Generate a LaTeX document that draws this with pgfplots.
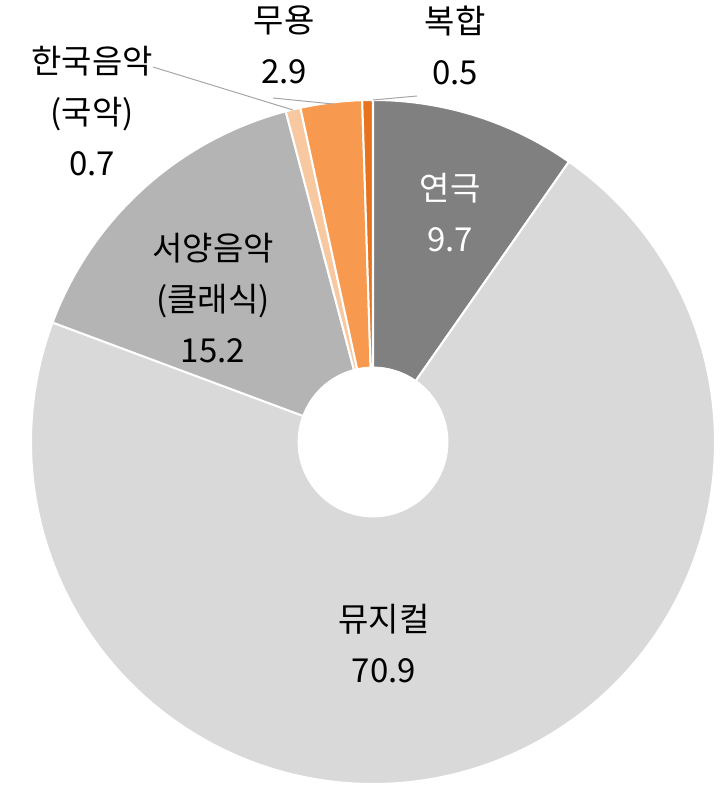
\documentclass[border=0pt]{standalone}
\usepackage{pgfplots}
\pgfplotsset{compat=1.18}
\usepackage{fontspec}
\setmainfont{Noto Sans CJK KR}
\definecolor{cA}{HTML}{808080}
\definecolor{cB}{HTML}{D9D9D9}
\definecolor{cC}{HTML}{B4B4B4}
\definecolor{cD}{HTML}{F8C8A0}
\definecolor{cE}{HTML}{F79A50}
\definecolor{cF}{HTML}{E8731E}
\definecolor{lead}{HTML}{A6A6A6}
% data (shares, %)
\def\vA{9.7}  % 연극
\def\vB{70.9} % 뮤지컬
\def\vC{15.2} % 서양음악
\def\vD{0.7}  % 한국음악
\def\vE{2.9}  % 무용
\def\vF{0.5}  % 복합
\pgfmathsetmacro\T{\vA+\vB+\vC+\vD+\vE+\vF}
\pgfmathsetmacro\bA{90-\vA/\T*360}
\pgfmathsetmacro\bB{\bA-\vB/\T*360}
\pgfmathsetmacro\bC{\bB-\vC/\T*360}
\pgfmathsetmacro\bD{\bC-\vD/\T*360}
\pgfmathsetmacro\bE{\bD-\vE/\T*360}
\pgfmathsetmacro\bF{\bE-\vF/\T*360}
\def\cx{373}\def\cy{351}\def\R{342}\def\r{75}
\begin{document}
\begin{tikzpicture}
\begin{axis}[x=0.5pt,y=0.5pt,xmin=0,xmax=726,ymin=0,ymax=793,
  hide axis,clip=false,enlargelimits=false,scale only axis]
\path (axis cs:0,0) rectangle (axis cs:726,793);
\addplot[fill=cA,draw=white,line width=1pt,domain=\bA:90,samples=60]
  ({\cx+\R*cos(x)},{\cy+\R*sin(x)}) -- (axis cs:\cx,\cy) -- cycle;
\addplot[fill=cB,draw=white,line width=1pt,domain=\bB:\bA,samples=240]
  ({\cx+\R*cos(x)},{\cy+\R*sin(x)}) -- (axis cs:\cx,\cy) -- cycle;
\addplot[fill=cC,draw=white,line width=1pt,domain=\bC:\bB,samples=60]
  ({\cx+\R*cos(x)},{\cy+\R*sin(x)}) -- (axis cs:\cx,\cy) -- cycle;
\addplot[fill=cD,draw=white,line width=1pt,domain=\bD:\bC,samples=10]
  ({\cx+\R*cos(x)},{\cy+\R*sin(x)}) -- (axis cs:\cx,\cy) -- cycle;
\addplot[fill=cE,draw=white,line width=1pt,domain=\bE:\bD,samples=20]
  ({\cx+\R*cos(x)},{\cy+\R*sin(x)}) -- (axis cs:\cx,\cy) -- cycle;
\addplot[fill=cF,draw=white,line width=1pt,domain=\bF:\bE,samples=10]
  ({\cx+\R*cos(x)},{\cy+\R*sin(x)}) -- (axis cs:\cx,\cy) -- cycle;
\addplot[fill=white,draw=white,domain=0:360,samples=120]
  ({\cx+\r*cos(x)},{\cy+\r*sin(x)}) -- cycle;
% leader lines
\draw[lead,line width=0.5pt] (axis cs:153,726) -- (axis cs:293,683);
\draw[lead,line width=0.5pt] (axis cs:273,695) -- (axis cs:333,689);
\draw[lead,line width=0.5pt] (axis cs:417,697) -- (axis cs:373,693);
% labels
\tikzset{lbl/.style={align=center,inner sep=0pt,font=\fontsize{16.5}{25.5}\selectfont}}
\node[lbl,text=white] at (axis cs:450,580) {연극\\9.7};
\node[lbl] at (axis cs:384,149) {뮤지컬\\70.9};
\node[lbl] at (axis cs:213,495) {서양음악\\(클래식)\\15.2};
\node[lbl] at (axis cs:92,682) {한국음악\\(국악)\\0.7};
\node[lbl] at (axis cs:284,748) {무용\\2.9};
\node[lbl] at (axis cs:455,748) {복합\\0.5};
\end{axis}
\end{tikzpicture}
\end{document}
